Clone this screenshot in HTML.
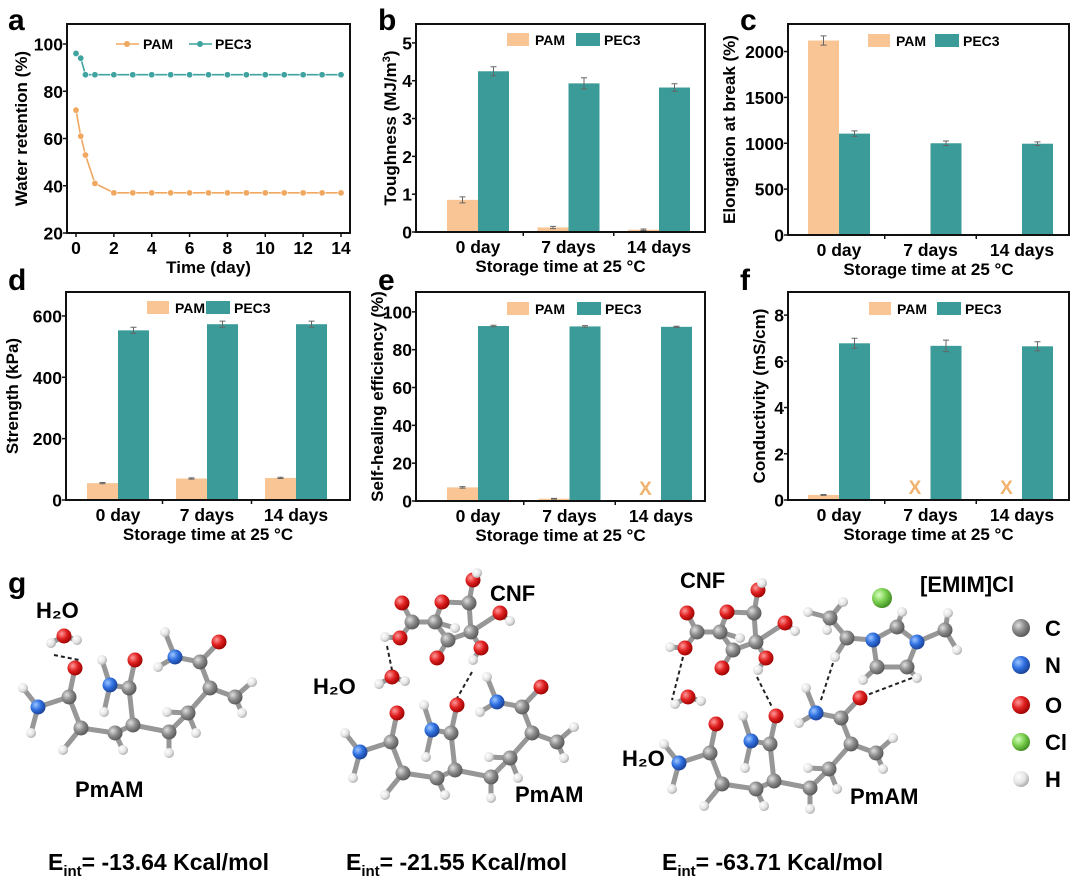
<!DOCTYPE html>
<html><head><meta charset="utf-8">
<style>
html,body{margin:0;padding:0;background:#fff;}
svg{display:block;font-family:"Liberation Sans",Arial,sans-serif;font-weight:bold;}
</style></head>
<body>
<svg id="fig" width="1080" height="895" viewBox="0 0 1080 895" xmlns="http://www.w3.org/2000/svg">
<defs>
<radialGradient id="gC" cx="35%" cy="35%" r="70%"><stop offset="0" stop-color="#e0e0e0"/><stop offset="0.5" stop-color="#8c8c8c"/><stop offset="1" stop-color="#555"/></radialGradient>
<radialGradient id="gN" cx="35%" cy="35%" r="70%"><stop offset="0" stop-color="#9cc6ff"/><stop offset="0.5" stop-color="#2f6fe0"/><stop offset="1" stop-color="#1a3f90"/></radialGradient>
<radialGradient id="gO" cx="35%" cy="35%" r="70%"><stop offset="0" stop-color="#ff9a9a"/><stop offset="0.5" stop-color="#e02020"/><stop offset="1" stop-color="#900"/></radialGradient>
<radialGradient id="gCl" cx="35%" cy="35%" r="70%"><stop offset="0" stop-color="#d8ffc0"/><stop offset="0.5" stop-color="#7cd050"/><stop offset="1" stop-color="#3e8a20"/></radialGradient>
<radialGradient id="gH" cx="35%" cy="35%" r="70%"><stop offset="0" stop-color="#ffffff"/><stop offset="0.6" stop-color="#e4e4e4"/><stop offset="1" stop-color="#a8a8a8"/></radialGradient>
</defs>
<g id="charts"></g>
<g id="mol"></g>
<g font-size="23">
<text x="48" y="870">E<tspan font-size="15" dy="6">int</tspan><tspan dy="-6">= -13.64 Kcal/mol</tspan></text>
<text x="346" y="870">E<tspan font-size="15" dy="6">int</tspan><tspan dy="-6">= -21.55 Kcal/mol</tspan></text>
<text x="662" y="870">E<tspan font-size="15" dy="6">int</tspan><tspan dy="-6">= -63.71 Kcal/mol</tspan></text>
</g>
</svg>
<script>
// ---------- DATA ----------
const timeDays = [0,0.25,0.5,1,2,3,4,5,6,7,8,9,10,11,12,13,14];
const pamRetention = [72,61,53,41,37,37,37,37,37,37,37,37,37,37,37,37,37];
const pec3Retention = [96,94,87,87,87,87,87,87,87,87,87,87,87,87,87,87,87];
const retentionTicks = [20,40,60,80,100];
const timeTicks = [0,2,4,6,8,10,12,14];

const categories = ["0 day","7 days","14 days"];
const toughPAM = [0.85,0.12,0.06];
const toughPEC3 = [4.25,3.93,3.82];
const toughPAMErr = [0.08,0.03,0.02];
const toughPEC3Err = [0.12,0.15,0.1];
const toughTicks = [0,1,2,3,4,5];

const elongPAM = [2120,12,8];
const elongPEC3 = [1105,1000,995];
const elongPAMErr = [50,0,0];
const elongPEC3Err = [30,25,20];
const elongTicks = [0,500,1000,1500,2000];

const strengthPAM = [55,70,72];
const strengthPEC3 = [553,573,573];
const strengthPAMErr = [2,2,2];
const strengthPEC3Err = [10,10,10];
const strengthTicks = [0,200,400,600];

const healPAM = [7.2,1.2,null];
const healPEC3 = [92.5,92.3,92.1];
const healPAMErr = [0.4,0.2,0];
const healPEC3Err = [0.4,0.4,0.3];
const healTicks = [0,20,40,60,80,100];

const condPAM = [0.22,null,null];
const condPEC3 = [6.78,6.67,6.65];
const condPAMErr = [0.02,0,0];
const condPEC3Err = [0.22,0.25,0.2];
const condTicks = [0,2,4,6,8];

// ---------- HELPERS ----------
const NS = "http://www.w3.org/2000/svg";
const charts = document.getElementById('charts');
function mk(tag, attrs, parent){
  const e = document.createElementNS(NS, tag);
  for (const k in attrs) e.setAttribute(k, attrs[k]);
  (parent||charts).appendChild(e);
  return e;
}
const PAMC = "#f9c594", PECC = "#3a9b98";
const TF = "17.5";

function frame(g, L, T, R, B){
  const r = mk('rect',{x:L,y:T,width:R-L,height:B-T,fill:'none',stroke:'#111','stroke-width':2},g);
  
  
}
function yAxis(g, L, ys, ticks){
  ticks.forEach(v=>{
    const y = ys(v);
    const t = mk('line',{x1:L-4,x2:L,y1:y,y2:y,stroke:'#111','stroke-width':1.5},g);
    
    
    const lab = mk('text',{x:L-4,y:y+6.5,'text-anchor':'end','font-size':TF},g);
    lab.textContent = v;
    
    
  });
}
function yTitle(g, x, y, html){
  const t = mk('text',{x:x,y:y,'text-anchor':'middle','font-size':'17',transform:`rotate(-90 ${x} ${y})`},g);
  t.innerHTML = html;
  
  
}
function xTitle(g, x, y, txt){
  const t = mk('text',{x:x,y:y,'text-anchor':'middle','font-size':'17'},g);
  t.textContent = txt;
  
  
}
function panelLetter(g, x, y, ch){
  const t = mk('text',{x:x,y:y,'font-size':'30'},g);
  t.textContent = ch;
  
  
}
function barLegend(g, x1, x2, y){
  const b1 = mk('rect',{x:x1,y:y,width:22,height:13,fill:PAMC},g);
  
  
  const t1 = mk('text',{x:x1+28,y:y+12,'font-size':'14'},g); t1.textContent='PAM';
  
  
  const b2 = mk('rect',{x:x2,y:y,width:24,height:13,fill:PECC},g);
  
  
  const t2 = mk('text',{x:x2+28,y:y+12,'font-size':'14'},g); t2.textContent='PEC3';
  
  
}

function barChart(o){
  const g = mk('g',{});
  
  
  const ys = v => o.B - (v - 0) / o.ymax * (o.B - o.T);
  const cx = i => o.L + o.off + o.step * i;
  const bw = 31;
  function drawBar(vals, errs, side, color, sname){
    vals.forEach((v,i)=>{
      if (v === null){
        const x = mk('text',{x:cx(i)-bw/2,y:o.B-6,'text-anchor':'middle','font-size':'19',fill:'#f0b26c'},g);
        x.textContent='X';
        
        
        return;
      }
      const x0 = side<0 ? cx(i)-bw : cx(i);
      const r = mk('rect',{x:x0,y:ys(v),width:bw,height:o.B-ys(v),fill:color},g);
      
      
      const e = errs[i];
      if (e>0){
        const xc = x0+bw/2;
        const eb = mk('path',{d:`M${xc},${ys(v+e)}V${ys(v-e)}M${xc-3},${ys(v+e)}H${xc+3}M${xc-3},${ys(v-e)}H${xc+3}`,stroke:'#666','stroke-width':1,fill:'none'},g);
        
        
      }
    });
  }
  drawBar(o.pam, o.pamErr, -1, PAMC, 'pam');
  drawBar(o.pec, o.pecErr, 1, PECC, 'pec3');
  frame(g, o.L, o.T, o.R, o.B);
  yAxis(g, o.L, ys, o.ticks);
  categories.forEach((c,i)=>{
    const t = mk('text',{x:cx(i),y:o.B+21,'text-anchor':'middle','font-size':TF},g);
    t.textContent = c;
    
    
    if (i>0){
      const tk = mk('line',{x1:(cx(i)+cx(i-1))/2,x2:(cx(i)+cx(i-1))/2,y1:o.B,y2:o.B+4,stroke:'#111','stroke-width':1.5},g);
      
      
    }
  });
  xTitle(g, (o.L+o.R)/2, o.B+40, "Storage time at 25 °C");
  yTitle(g, o.ytx, (o.T+o.B)/2, o.ytitle);
  barLegend(g, o.lx1, o.lx2, o.ly);
  panelLetter(g, o.px, o.py, o.letter);
}

// ---------- PANEL A ----------
(function(){
  const g = mk('g',{});
  
  
  const L=67,R=350,T=24,B=233;
  const xs = v => 76 + v*(341-76)/14;
  const ys = v => B - (v-20)*(B-44)/80;
  frame(g,L,T,R,B);
  yAxis(g,L,ys,retentionTicks);
  timeTicks.forEach(v=>{
    const tk = mk('line',{x1:xs(v),x2:xs(v),y1:B,y2:B+4,stroke:'#111','stroke-width':1.5},g);
    
    
    const t = mk('text',{x:xs(v),y:B+21,'text-anchor':'middle','font-size':TF},g);
    t.textContent = v;
    
    
  });
  function series(vals,color,name){
    const p = mk('polyline',{points:timeDays.map((t,i)=>xs(t)+','+ys(vals[i])).join(' '),fill:'none',stroke:color,'stroke-width':1.6},g);
    
    
    timeDays.forEach((t,i)=>{
      const c = mk('circle',{cx:xs(t),cy:ys(vals[i]),r:3.2,fill:color,stroke:'#fff','stroke-width':0.6},g);
      
      
    });
  }
  series(pamRetention,'#f0a860','pam');
  series(pec3Retention,'#3fa3a0','pec3');
  const l1 = mk('line',{x1:116,x2:139,y1:44,y2:44,stroke:'#f0a860','stroke-width':1.6},g);
   
  mk('circle',{cx:127,cy:44,r:3,fill:'#f0a860'},g);
  const t1 = mk('text',{x:143,y:49,'font-size':'14'},g); t1.textContent='PAM';
   
  const l2 = mk('line',{x1:189,x2:212,y1:44,y2:44,stroke:'#3fa3a0','stroke-width':1.6},g);
   
  mk('circle',{cx:200,cy:44,r:3,fill:'#3fa3a0'},g);
  const t2 = mk('text',{x:215,y:49,'font-size':'14'},g); t2.textContent='PEC3';
   
  xTitle(g,(L+R)/2,B+40,"Time (day)");
  yTitle(g,27,(T+B)/2,"Water retention (%)");
  panelLetter(g,8,30,'a');
})();

barChart({name:'panel-b-toughness',L:416,R:705,T:24,B:232,ymax:5.5,off:62,step:90.5,pam:toughPAM,pec:toughPEC3,pamErr:toughPAMErr,pecErr:toughPEC3Err,ticks:toughTicks,ytx:396,ytitle:'Toughness (MJ/m<tspan font-size="11" dy="-6">3</tspan><tspan dy="6">)</tspan>',lx1:507,lx2:576,ly:33,letter:'b',px:378,py:30});
barChart({name:'panel-c-elongation',L:788,R:1069,T:24,B:235,ymax:2300,off:51,step:91.5,pam:elongPAM,pec:elongPEC3,pamErr:elongPAMErr,pecErr:elongPEC3Err,ticks:elongTicks,ytx:735,ytitle:'Elongation at break (%)',lx1:868,lx2:935,ly:34,letter:'c',px:740,py:30});
barChart({name:'panel-d-strength',L:66,R:350,T:292,B:500,ymax:678,off:52,step:89,pam:strengthPAM,pec:strengthPEC3,pamErr:strengthPAMErr,pecErr:strengthPEC3Err,ticks:strengthTicks,ytx:18,ytitle:'Strength (kPa)',lx1:147,lx2:206,ly:301,letter:'d',px:8,py:290});
barChart({name:'panel-e-self-healing',L:416,R:705,T:292,B:501,ymax:110.5,off:62,step:91.5,pam:healPAM,pec:healPEC3,pamErr:healPAMErr,pecErr:healPEC3Err,ticks:healTicks,ytx:383,ytitle:'Self-healing efficiency (%)',lx1:507,lx2:577,ly:302,letter:'e',px:378,py:290});
barChart({name:'panel-f-conductivity',L:788,R:1069,T:292,B:500,ymax:9,off:51,step:91.5,pam:condPAM,pec:condPEC3,pamErr:condPAMErr,pecErr:condPEC3Err,ticks:condTicks,ytx:765,ytitle:'Conductivity (mS/cm)',lx1:869,lx2:937,ly:302,letter:'f',px:740,py:290});

// ---------- MOLECULES (illustration) ----------
const mol = document.getElementById('mol');
function m(tag, attrs){ const e=document.createElementNS(NS,tag); for(const k in attrs) e.setAttribute(k,attrs[k]); mol.appendChild(e); return e; }
const R = {C:7.5,N:7.5,O:7.5,H:5,Cl:10};
const G = {C:'url(#gC)',N:'url(#gN)',O:'url(#gO)',H:'url(#gH)',Cl:'url(#gCl)'};
function drawMol(atoms, bonds, dx, dy, name){
  const grp = document.createElementNS(NS,'g');
  
  
  mol.appendChild(grp);
  bonds.forEach(([a,b])=>{
    const A=atoms[a],B=atoms[b];
    const l=document.createElementNS(NS,'line');
    l.setAttribute('x1',A[1]+dx);l.setAttribute('y1',A[2]+dy);l.setAttribute('x2',B[1]+dx);l.setAttribute('y2',B[2]+dy);
    l.setAttribute('stroke','#979797');l.setAttribute('stroke-width','5');l.setAttribute('stroke-linecap','round');
    grp.appendChild(l);
  });
  atoms.forEach(([t,x,y])=>{
    const c=document.createElementNS(NS,'circle');
    c.setAttribute('cx',x+dx);c.setAttribute('cy',y+dy);c.setAttribute('r',R[t]);c.setAttribute('fill',G[t]);
    grp.appendChild(c);
  });
}
function dash(x1,y1,x2,y2){
  const l=m('line',{x1,y1,x2,y2,stroke:'#222','stroke-width':2,'stroke-dasharray':'4,3'});
  
  
}
const pmAtoms = [
 ['C',81,728],['C',115,733],['C',133,725],['C',169,732],['C',188,713],['C',210,688],['C',235,697],
 ['C',69,697],['O',75,668],['N',38,707],
 ['C',129,688],['O',135,660],['N',110,685],
 ['C',200,662],['O',219,642],['N',175,657],
 ['H',23,688],['H',31,733],['H',63,750],['H',102,660],['H',104,712],['H',123,750],['H',169,753],['H',196,733],['H',167,712],['H',242,713],['H',252,682],['H',165,632],['H',158,667]
];
const pmBonds = [[0,1],[1,2],[2,3],[3,4],[4,5],[5,6],[0,7],[7,8],[7,9],[2,10],[10,11],[10,12],[5,13],[13,14],[13,15],[9,16],[9,17],[0,18],[12,19],[12,20],[1,21],[3,22],[4,23],[4,24],[6,25],[6,26],[15,27],[15,28]];
const cnfAtoms = [
 ['C',435,622],['O',442,602],['C',469,603],['C',471,632],['C',448,640],
 ['C',412,622],['O',402,603],['O',400,638],['H',385,637],
 ['O',473,580],['H',477,573],['O',500,613],['H',510,621],['O',481,648],['H',473,660],['O',437,658],['H',455,628]
];
const cnfBonds = [[0,1],[1,2],[2,3],[3,4],[4,0],[0,5],[5,6],[5,7],[7,8],[2,9],[9,10],[3,11],[11,12],[3,13],[13,14],[4,15],[0,16]];
const waterAtoms = [['O',0,0],['H',-13,7],['H',13,4]];
const waterBonds = [[0,1],[0,2]];

drawMol(waterAtoms,waterBonds,64,636,'water-molecule-1');
dash(54,655,79,660);
drawMol(pmAtoms,pmBonds,0,0,'pmam-molecule-1');
drawMol(cnfAtoms,cnfBonds,0,0,'cnf-molecule-2');
drawMol(waterAtoms,waterBonds,392,677,'water-molecule-2');
dash(387,646,392,670); dash(472,672,456,700);
drawMol(pmAtoms,pmBonds,322,45,'pmam-molecule-2');
drawMol(cnfAtoms,cnfBonds,285,10,'cnf-molecule-3');
drawMol(waterAtoms,waterBonds,688,697,'water-molecule-3');
dash(683,657,672,700); dash(757,677,772,707);
drawMol(pmAtoms,pmBonds,641,56,'pmam-molecule-3');
const emimAtoms = [
 ['N',873,640],['C',897,627],['N',917,642],['C',907,667],['C',877,667],
 ['C',945,630],['H',957,650],['H',948,613],['C',847,638],['C',830,618],
 ['H',843,602],['H',808,612],['H',827,630],['H',835,657],['H',863,680],['H',917,678],['H',902,612]
];
const emimBonds = [[0,1],[1,2],[2,3],[3,4],[4,0],[2,5],[5,6],[5,7],[0,8],[8,9],[9,10],[9,11],[9,12],[8,13],[4,14],[3,15],[1,16]];
drawMol(emimAtoms,emimBonds,0,0,'emim-cation');
drawMol([['Cl',882,598]],[],0,0,'chloride-ion');
dash(833,663,820,703); dash(912,678,867,695);

[['g',8,593,30,'panel-label-g'],['H\u2082O',36,618,22,'label-h2o-1'],['PmAM',75,797,22,'label-pmam-1'],
 ['CNF',490,601,22,'label-cnf-2'],['H\u2082O',313,694,22,'label-h2o-2'],['PmAM',515,802,22,'label-pmam-2'],
 ['CNF',680,588,22,'label-cnf-3'],['[EMIM]Cl',920,592,22,'label-emim-cl'],['H\u2082O',622,766,22,'label-h2o-3'],['PmAM',850,804,22,'label-pmam-3']
].forEach(([s,x,y,f,n])=>{
  const t=m('text',{x,y,'font-size':f});
  t.textContent=s;
  
  
});
[['C','C',628],['N','N',665],['O','O',705],['Cl','Cl',742],['H','H',779]].forEach(([t,s,y])=>{
  const c=m('circle',{cx:1021,cy:y,r:t==='H'?8:9,fill:G[t]});
  
  
  const l=m('text',{x:1045,y:y+8,'font-size':22});
  l.textContent=s;
  
  
});
</script>
</body></html>
